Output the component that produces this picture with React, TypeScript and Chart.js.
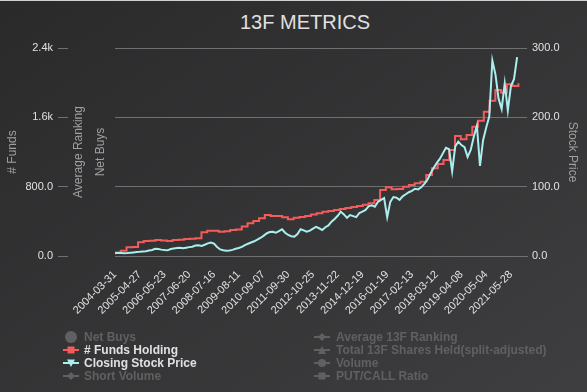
import React, { useEffect, useRef } from "react";
import { Chart, registerables } from "chart.js";

Chart.register(...registerables);

// ---- data ----
const xTickLabels = [
  "2004-03-31", "2005-04-27", "2006-05-23", "2007-06-20", "2008-07-16", "2009-08-11",
  "2010-09-07", "2011-09-30", "2012-10-25", "2013-11-22", "2014-12-19", "2016-01-19",
  "2017-02-13", "2018-03-12", "2019-04-08", "2020-05-04", "2021-05-28",
];
const fundsTickLabels = ["0.0", "800.0", "1.6k", "2.4k"];
const priceTickLabels = ["0.0", "100.0", "200.0", "300.0"];

// # Funds Holding, one value per quarter (starting 2004-03-31)
const fundsHolding = [
  40, 62, 100, 105, 158, 173, 175, 185, 178, 172,
  185, 188, 196, 200, 205, 273, 292, 292, 280, 285,
  300, 305, 340, 377, 404, 435, 473, 462, 462, 446,
  423, 442, 450, 462, 478, 492, 510, 519, 531, 542,
  554, 565, 577, 590, 608, 646, 762, 793, 770, 772,
  800, 819, 839, 858, 935, 1012, 1062, 1108, 1223, 1385,
  1346, 1396, 1492, 1561, 1665, 1792, 1915, 1885, 1981, 1962,
  1993,
];

// Closing Stock Price, sampled every PRICE_STEP label intervals
const closingPrice = [
  4.0, 4.5, 4.2, 3.8, 4.2, 4.8, 5.2, 5.6, 6.0, 6.6,
  7.0, 7.8, 8.6, 10.5, 10.0, 9.2, 8.6, 8.2, 10.0, 10.8,
  11.5, 11.8, 11.2, 12.0, 12.8, 13.4, 15.0, 15.6, 14.6, 16.2,
  18.2, 19.4, 17.8, 13.0, 9.5, 8.4, 7.6, 7.9, 8.8, 10.4,
  11.6, 13.2, 15.8, 17.6, 19.4, 21.2, 23.5, 26.0, 29.0, 32.5,
  34.5, 35.0, 33.5, 36.0, 38.5, 33.5, 30.3, 28.5, 28.0, 31.5,
  38.5, 37.0, 35.0, 36.5, 39.5, 42.0, 40.0, 37.5, 41.5, 44.0,
  49.5, 53.5, 58.0, 64.0, 60.0, 55.0, 59.0, 57.5, 56.0, 62.0,
  64.0, 66.5, 71.5, 73.0, 71.0, 78.0, 81.0, 83.5, 56.0, 78.0,
  85.0, 84.0, 81.0, 86.0, 89.0, 92.0, 94.0, 97.0, 96.0, 99.0,
  104.0, 110.0, 119.0, 127.0, 134.0, 140.0, 148.0, 156.0, 154.0, 122.0,
  158.0, 165.0, 160.0, 157.0, 143.0, 153.0, 172.0, 188.0, 130.0, 167.0,
  185.0, 201.0, 282.0, 262.0, 227.0, 212.0, 249.0, 210.0, 245.0, 255.0,
  287.0,
];

const QUARTER_STEP = 0.2329; // x-axis units (one unit = one tick-label interval)
const PRICE_STEP = 0.125;
const X_MAX = 16.65;

const legendLeft = [
  { name: "Net Buys", marker: "circle", color: "#f45b5b", visible: false },
  { name: "# Funds Holding", marker: "square", color: "#f45b5b", visible: true },
  { name: "Closing Stock Price", marker: "triangle-down", color: "#aaeeee", visible: true },
  { name: "Short Volume", marker: "diamond", color: "#606063", visible: false },
];
const legendRight = [
  { name: "Average 13F Ranking", marker: "diamond", color: "#606063", visible: false },
  { name: "Total 13F Shares Held(split-adjusted)", marker: "triangle", color: "#606063", visible: false },
  { name: "Volume", marker: "circle-line", color: "#606063", visible: false },
  { name: "PUT/CALL Ratio", marker: "square", color: "#606063", visible: false },
];

const FONT = "'Liberation Sans', Arial, Helvetica, sans-serif";
const HIDDEN = "#606063";
const TEXT = "#E0E0E3";
const AXIS_TITLE = "#A0A0A3";
const GRID = "#707073";

function Marker({ type, color }: { type: string; color: string }) {
  const line = <line x1={0} x2={16} y1={7} y2={7} stroke={color} strokeWidth={2} />;
  let shape: any = null;
  if (type === "circle") return (
    <svg width={16} height={14}><circle cx={8} cy={7} r={6} fill={color} /></svg>
  );
  if (type === "square") shape = <rect x={4.5} y={3.5} width={7} height={7} fill={color} />;
  if (type === "triangle-down") shape = <polygon points="4,3.5 12,3.5 8,11" fill={color} />;
  if (type === "triangle") shape = <polygon points="8,3 12,11 4,11" fill={color} />;
  if (type === "diamond") shape = <polygon points="8,3 12,7 8,11 4,7" fill={color} />;
  if (type === "circle-line") shape = <circle cx={8} cy={7} r={4} fill={color} />;
  return (
    <svg width={16} height={14}>
      {line}
      {shape}
    </svg>
  );
}

export default function App() {
  const ref = useRef<HTMLCanvasElement | null>(null);

  useEffect(() => {
    document.body.style.margin = "0";
    if (!ref.current) return;
    Chart.defaults.font.family = FONT;

    const fundsData = fundsHolding.map((v, i) => ({ x: i * QUARTER_STEP, y: v }));
    const priceData = closingPrice.map((v, i) => ({ x: i * PRICE_STEP, y: v }));

    const chart = new Chart(ref.current, {
      type: "line",
      data: {
        datasets: [
          {
            label: "Closing Stock Price",
            data: priceData,
            yAxisID: "price",
            borderColor: "#aaeeee",
            backgroundColor: "#aaeeee",
            borderWidth: 2,
            pointRadius: 0,
            tension: 0,
            order: 0,
          },
          {
            label: "# Funds Holding",
            data: fundsData,
            yAxisID: "funds",
            borderColor: "#f45b5b",
            backgroundColor: "#f45b5b",
            borderWidth: 2,
            pointRadius: 0,
            stepped: true,
            order: 1,
          },
        ],
      },
      options: {
        animation: false,
        responsive: false,
        maintainAspectRatio: false,
        parsing: true,
        layout: { padding: { top: 48, left: 0, right: 0, bottom: 76 } },
        plugins: {
          legend: { display: false },
          title: { display: false },
          tooltip: { enabled: false },
        },
        scales: {
          x: {
            type: "linear",
            min: 0,
            max: X_MAX,
            grid: { display: false, drawTicks: false, tickLength: 0 },
            border: { display: true, color: GRID, width: 1 },
            afterBuildTicks: (scale: any) => {
              scale.ticks = xTickLabels.map((_, i) => ({ value: i }));
            },
            afterFit: (scale: any) => {
              scale.height = 60;
            },
            ticks: {
              autoSkip: false,
              minRotation: 45,
              maxRotation: 45,
              padding: 12,
              color: TEXT,
              font: { size: 11 },
              callback: (v: any) => xTickLabels[Math.round(Number(v))] ?? "",
            },
          },
          funds: {
            type: "linear",
            position: "left",
            weight: 2,
            min: 0,
            max: 2400,
            afterBuildTicks: (scale: any) => {
              scale.ticks = fundsTickLabels.map((_, i) => ({ value: i * 800 }));
            },
            afterFit: (scale: any) => {
              scale.width = 68;
            },
            grid: { color: GRID, drawOnChartArea: true, drawTicks: true, tickLength: 10, lineWidth: 1 },
            border: { display: false },
            ticks: {
              padding: 5,
              color: TEXT,
              font: { size: 11 },
              callback: (v: any) => fundsTickLabels[Math.round(Number(v) / 800)] ?? "",
            },
            title: {
              display: true,
              text: "# Funds",
              color: AXIS_TITLE,
              font: { size: 12 },
              padding: { top: 5, bottom: 3 },
            },
          },
          avgRank: {
            type: "linear",
            position: "left",
            weight: 1,
            afterFit: (scale: any) => {
              scale.width = 21;
            },
            grid: { display: false, drawTicks: false, tickLength: 0 },
            border: { display: false },
            ticks: { display: false },
            title: {
              display: true,
              text: "Average Ranking",
              color: AXIS_TITLE,
              font: { size: 12 },
              padding: { top: 3, bottom: 3 },
            },
          },
          netBuys: {
            type: "linear",
            position: "left",
            weight: 0,
            afterFit: (scale: any) => {
              scale.width = 26;
            },
            grid: { display: false, drawTicks: false, tickLength: 0 },
            border: { display: false },
            ticks: { display: false },
            title: {
              display: true,
              text: "Net Buys",
              color: AXIS_TITLE,
              font: { size: 12 },
              padding: { top: 4, bottom: 3 },
            },
          },
          price: {
            type: "linear",
            position: "right",
            min: 0,
            max: 300,
            afterBuildTicks: (scale: any) => {
              scale.ticks = priceTickLabels.map((_, i) => ({ value: i * 100 }));
            },
            afterFit: (scale: any) => {
              scale.width = 60;
            },
            grid: { display: false, drawTicks: false, tickLength: 0 },
            border: { display: false },
            ticks: {
              padding: 5,
              color: TEXT,
              font: { size: 11 },
              callback: (v: any) => priceTickLabels[Math.round(Number(v) / 100)] ?? "",
            },
            title: {
              display: true,
              text: "Stock Price",
              color: AXIS_TITLE,
              font: { size: 12 },
              padding: { top: 7, bottom: 3 },
            },
          },
        },
      } as any,
    });
    return () => chart.destroy();
  }, []);

  const rowTops = [330, 343, 356, 369];
  const renderCol = (items: typeof legendLeft, symX: number, textX: number) =>
    items.map((it, i) => (
      <div key={it.name}>
        <div style={{ position: "absolute", left: symX, top: rowTops[i], width: 16, height: 14 }}>
          <Marker type={it.marker} color={it.visible ? it.color : HIDDEN} />
        </div>
        <div
          style={{
            position: "absolute",
            left: textX,
            top: rowTops[i],
            height: 14,
            lineHeight: "14px",
            fontFamily: FONT,
            fontSize: 12,
            fontWeight: "bold",
            color: it.visible ? TEXT : HIDDEN,
            whiteSpace: "nowrap",
          }}
        >
          {it.name}
        </div>
      </div>
    ));

  return (
    <div
      style={{
        position: "relative",
        width: 587,
        height: 392,
        overflow: "hidden",
        background: "linear-gradient(to bottom right, #2a2a2b, #3e3e40)",
      }}
    >
      <div style={{ position: "absolute", left: 0, top: 0, width: 587, height: 1, background: "#d0d0d0" }} />
      <div
        style={{
          position: "absolute",
          left: 0,
          top: 10,
          width: 610,
          textAlign: "center",
          fontFamily: FONT,
          fontSize: 20,
          lineHeight: "24px",
          color: TEXT,
          textTransform: "uppercase",
        }}
      >
        13F Metrics
      </div>
      <canvas ref={ref} width={587} height={392} style={{ position: "absolute", left: 0, top: 0 }} />
      {renderCol(legendLeft, 63, 84)}
      {renderCol(legendRight, 314, 336)}
    </div>
  );
}
